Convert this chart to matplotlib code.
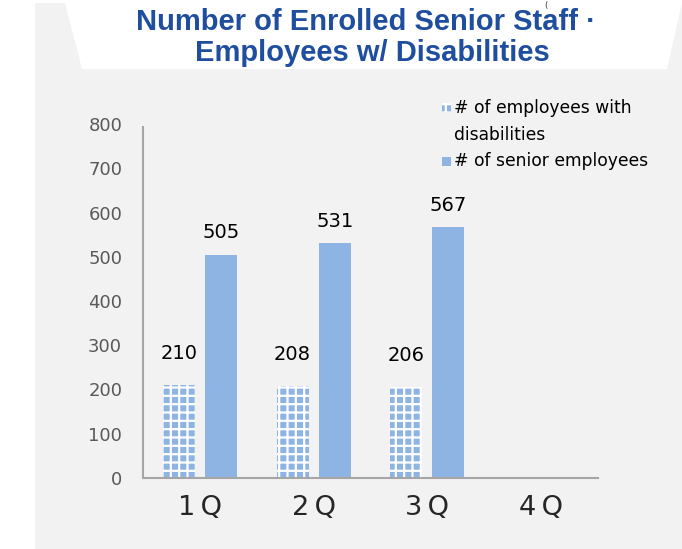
import numpy as np
import matplotlib.pyplot as plt
from matplotlib.patches import Polygon, Rectangle

# Quarterly headcounts
quarters = ["1Q", "2Q", "3Q", "4Q"]
disabled_staff = [210, 208, 206]
senior_staff = [505, 531, 567]

W, H = 682, 549
BLUE = "#8eb4e3"
TITLE_BLUE = "#1f4e9f"

plt.rcParams["hatch.linewidth"] = 1.6


def px(x, y):
    # pixel coords (origin top-left) -> figure fraction
    return x / W, 1 - y / H


fig = plt.figure(figsize=(W / 100, H / 100), dpi=100, facecolor="white")

# grey card and the white title tab cut into it
fig.patches.append(Polygon([px(35, 3), px(682, 3), px(682, 549), px(35, 549)],
                           closed=True, transform=fig.transFigure,
                           facecolor="#f2f2f2", edgecolor="none", zorder=-2))
fig.patches.append(Polygon([px(65, 3), px(682, 3), px(667, 69), px(82, 69)],
                           closed=True, transform=fig.transFigure,
                           facecolor="white", edgecolor="none", zorder=-1))

fig.text(*px(366, 22), "Number of Enrolled Senior Staff \u00b7", ha="center", va="center",
         fontsize=21, fontweight="bold", color=TITLE_BLUE, family="Liberation Sans")
fig.text(*px(372, 53), "Employees w/ Disabilities", ha="center", va="center",
         fontsize=21, fontweight="bold", color=TITLE_BLUE, family="Liberation Sans")
fig.text(*px(546, 1), "(", ha="center", va="top", fontsize=6, color="#333333")

left, bottom = px(143, 478)
right, top = px(598, 124)
ax = fig.add_axes([left, bottom, right - left, top - bottom])
ax.set_facecolor("none")
ax.set_zorder(2)

x = np.arange(len(quarters))
n = len(disabled_staff)
width = 0.28
off = 0.185

b1 = ax.bar(x[:n] - off, disabled_staff, width, facecolor=BLUE, edgecolor="white",
            hatch="++", linewidth=0, zorder=2)
b2 = ax.bar(x[:n] + off, senior_staff, width, color=BLUE, linewidth=0, zorder=2)

for rect, v in zip(b1, disabled_staff):
    ax.annotate(str(v), (rect.get_x() + rect.get_width() / 2, v), xytext=(0, 16),
                textcoords="offset points", ha="center", va="bottom", fontsize=14, color="black")
for rect, v in zip(b2, senior_staff):
    ax.annotate(str(v), (rect.get_x() + rect.get_width() / 2, v), xytext=(0, 9),
                textcoords="offset points", ha="center", va="bottom", fontsize=14, color="black")

ax.set_xlim(-0.5, len(quarters) - 0.5)
ax.set_ylim(0, 800)
ax.set_yticks(range(0, 801, 100))
ax.set_xticks(x)
ax.set_xticklabels([q[0] + "\u2009" + q[1] for q in quarters], fontsize=19.5, color="#262626")
ax.tick_params(axis="x", length=0, pad=12)
ax.tick_params(axis="y", length=0, pad=15, labelsize=13, labelcolor="#595959")
for s in ["top", "right"]:
    ax.spines[s].set_visible(False)
for s in ["left", "bottom"]:
    ax.spines[s].set_color("#a6a6a6")
    ax.spines[s].set_linewidth(1.5)
ax.spines["left"].set_bounds(0, 793)

# legend drawn by hand so the swatch sits on the first line of the wrapped label
sq = 9
fig.patches.append(Rectangle(px(442, 112), sq / W, sq / H, transform=fig.transFigure,
                             facecolor=BLUE, edgecolor="white", hatch="++", linewidth=0, zorder=3))
fig.patches.append(Rectangle(px(442, 166), sq / W, sq / H, transform=fig.transFigure,
                             facecolor=BLUE, edgecolor="none", zorder=3))
fig.text(*px(454, 108), "# of employees with", ha="left", va="center", fontsize=12.3, color="black")
fig.text(*px(454, 135), "disabilities", ha="left", va="center", fontsize=12.3, color="black")
fig.text(*px(454, 161), "# of senior employees", ha="left", va="center", fontsize=12.3, color="black")

fig.savefig("out.png", dpi=100, facecolor=fig.get_facecolor())
